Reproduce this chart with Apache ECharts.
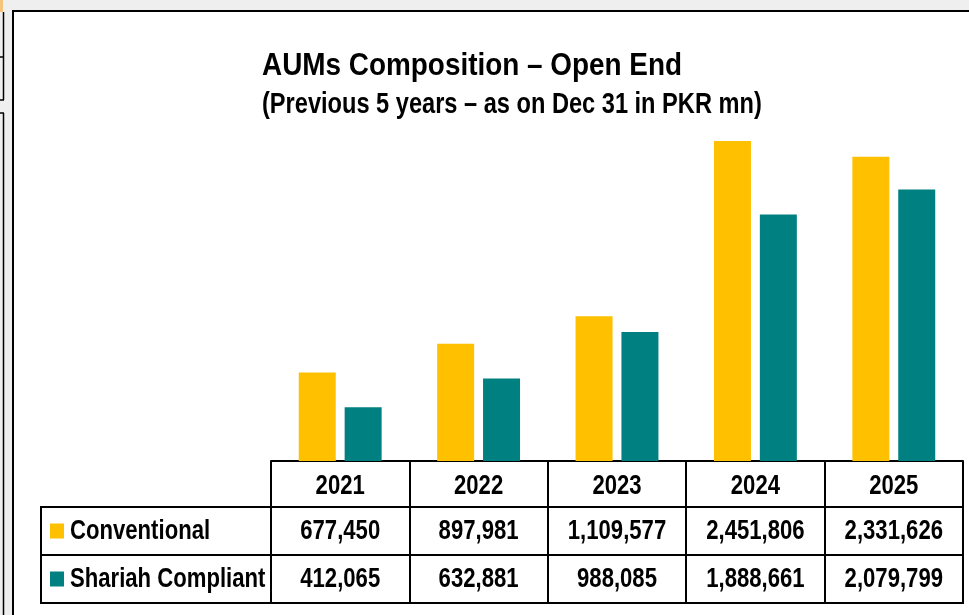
<!DOCTYPE html>
<html>
<head>
<meta charset="utf-8">
<script src="https://cdn.jsdelivr.net/npm/echarts@6/dist/echarts.min.js"></script>
<style>
  html, body { margin: 0; padding: 0; background: #efefef; }
  #chart { width: 969px; height: 615px; }
</style>
</head>
<body>
<div id="chart"></div>
<script>
var years = ["2021", "2022", "2023", "2024", "2025"];
var conventional = [677450, 897981, 1109577, 2451806, 2331626];
var shariah = [412065, 632881, 988085, 1888661, 2079799];
var seriesNames = ["Conventional", "Shariah Compliant"];
var colors = ["#FFC000", "#008080"];

// Liberation Sans squeezed horizontally looks like the narrow font of the original
var FONT = "'Liberation Sans', Arial, sans-serif";
var SQUEEZE = 0.79;
var fmt = function (v) { return v.toLocaleString("en-US"); };

var chartDom = document.getElementById("chart");
var myChart = echarts.init(chartDom);

var option = {
  backgroundColor: "#efefef",
  animation: false,
  grid: { left: 271, right: 6, top: 69.5, bottom: 154, containLabel: false },
  xAxis: {
    type: "category",
    data: years,
    position: "bottom",
    axisLine: { show: true, lineStyle: { color: "#000", width: 2 } },
    axisTick: { show: true, interval: 0, length: 142, lineStyle: { color: "#000", width: 2 } },
    axisLabel: { show: false },
  },
  yAxis: { type: "value", min: 0, max: 3000000, show: false, splitLine: { show: false } },
  series: [
    {
      name: seriesNames[0],
      type: "bar",
      data: conventional,
      barWidth: 37,
      barGap: "24%",
      itemStyle: { color: colors[0] },
    },
    {
      name: seriesNames[1],
      type: "bar",
      data: shariah,
      barWidth: 37,
      itemStyle: { color: colors[1] },
    },
  ],
};

myChart.setOption(option);

// table, titles and frame placed from the axis positions
var axisY = myChart.convertToPixel({ yAxisIndex: 0 }, 0);
var x0 = myChart.convertToPixel({ xAxisIndex: 0 }, years[0]);
var step = myChart.convertToPixel({ xAxisIndex: 0 }, years[1]) - x0;
var tableRight = x0 + step * (years.length - 0.5);
var rowLines = [axisY + 46, axisY + 94, axisY + 142];
var rowMid = [axisY + 25, axisY + 70.5, axisY + 118.5];

var line = function (x1, y1, x2, y2) {
  return { type: "line", shape: { x1: x1, y1: y1, x2: x2, y2: y2 }, style: { stroke: "#000", lineWidth: 2 }, z: 10 };
};
var text = function (str, x, y, size, align, sx) {
  return {
    type: "text",
    x: x,
    y: y,
    scaleX: sx,
    z: 10,
    style: {
      text: str,
      fontFamily: FONT,
      fontWeight: "bold",
      fontSize: size,
      fill: "#000",
      align: align,
      verticalAlign: "middle",
    },
  };
};

var elems = [
  { type: "rect", shape: { x: 13, y: 11, width: 1000, height: 700 }, style: { fill: "#fff", stroke: "#000", lineWidth: 2 }, z: -10 },
  { type: "rect", shape: { x: 0, y: 0, width: 3, height: 12 }, style: { fill: "#f6c47a" }, z: -10 },
  { type: "line", shape: { x1: 3.5, y1: 12, x2: 3.5, y2: 100 }, style: { stroke: "#000", lineWidth: 1.5 }, z: -10 },
  { type: "line", shape: { x1: 3.5, y1: 113, x2: 3.5, y2: 615 }, style: { stroke: "#000", lineWidth: 1.5 }, z: -10 },
  { type: "line", shape: { x1: 0, y1: 57, x2: 4, y2: 57 }, style: { stroke: "#000", lineWidth: 1.5 }, z: -10 },
  { type: "line", shape: { x1: 0, y1: 100, x2: 4, y2: 100 }, style: { stroke: "#000", lineWidth: 1.5 }, z: -10 },
  { type: "line", shape: { x1: 0, y1: 113, x2: 4, y2: 113 }, style: { stroke: "#000", lineWidth: 1.5 }, z: -10 },
  line(41, rowLines[0], 41, rowLines[2] + 1),
  text("AUMs Composition – Open End", 262, 66, 31, "left", 0.9),
  text("(Previous 5 years – as on Dec 31 in PKR mn)", 262, 105, 29.5, "left", 0.8),
];
rowLines.forEach(function (y) {
  elems.push(line(40, y, tableRight + 1, y));
});

years.forEach(function (yr, i) {
  var cx = myChart.convertToPixel({ xAxisIndex: 0 }, yr);
  elems.push(text(yr, cx, rowMid[0], 28, "center", SQUEEZE));
  elems.push(text(fmt(conventional[i]), cx, rowMid[1], 28, "center", SQUEEZE));
  elems.push(text(fmt(shariah[i]), cx, rowMid[2], 28, "center", SQUEEZE));
});

seriesNames.forEach(function (name, i) {
  var y = rowMid[i + 1];
  elems.push({ type: "rect", shape: { x: 50, y: y - 8, width: 14, height: 15 }, style: { fill: colors[i] }, z: 10 });
  elems.push(text(name, 70, y, 28, "left", SQUEEZE));
});

myChart.setOption({ graphic: elems });

window.addEventListener("resize", function () {
  myChart.resize();
});
</script>
</body>
</html>
